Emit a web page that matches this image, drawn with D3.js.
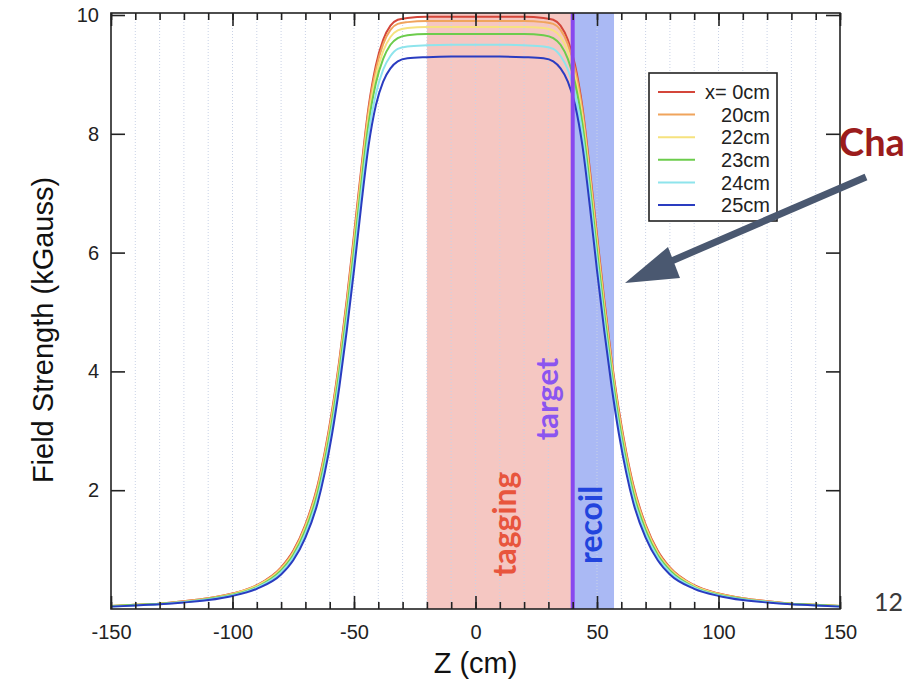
<!DOCTYPE html>
<html><head><meta charset="utf-8">
<script src="https://cdn.jsdelivr.net/npm/d3@7"></script>
<style>
html,body{margin:0;padding:0;background:#fff;}
svg{display:block;}
</style></head>
<body>
<svg id="chart" width="911" height="685"></svg>
<script>
// ---------- data ----------
const zPositions = [-150,-140,-130,-120,-110,-100,-90,-80,-75,-70,-65,-62,-59,-56,-53,-50,-47,-44,-41,-38,-35,-32,-28,-20,-10,0,10,20,28,32,35,38,41,44,47,50,53,56,59,62,65,70,75,80,90,100,110,120,130,140,150];
const field0cm  = [0.05,0.07,0.09,0.13,0.18,0.26,0.40,0.70,0.98,1.42,2.08,2.65,3.35,4.20,5.20,6.30,7.42,8.45,9.15,9.58,9.82,9.92,9.95,9.97,9.97,9.97,9.97,9.97,9.95,9.92,9.82,9.58,9.15,8.45,7.42,6.30,5.20,4.20,3.35,2.65,2.08,1.42,0.98,0.70,0.40,0.26,0.18,0.13,0.09,0.07,0.05];
const field20cm = [0.05,0.07,0.09,0.13,0.18,0.26,0.39,0.69,0.96,1.40,2.05,2.62,3.31,4.16,5.15,6.24,7.36,8.39,9.08,9.51,9.75,9.85,9.88,9.90,9.90,9.90,9.90,9.90,9.88,9.85,9.75,9.51,9.08,8.39,7.36,6.24,5.15,4.16,3.31,2.62,2.05,1.40,0.96,0.69,0.39,0.26,0.18,0.13,0.09,0.07,0.05];
const field22cm = [0.05,0.07,0.09,0.12,0.17,0.25,0.39,0.67,0.94,1.37,2.00,2.56,3.25,4.09,5.07,6.15,7.27,8.29,8.97,9.39,9.63,9.74,9.78,9.80,9.80,9.80,9.80,9.80,9.78,9.74,9.63,9.39,8.97,8.29,7.27,6.15,5.07,4.09,3.25,2.56,2.00,1.37,0.94,0.67,0.39,0.25,0.17,0.12,0.09,0.07,0.05];
const field23cm = [0.05,0.07,0.09,0.12,0.17,0.24,0.37,0.65,0.91,1.33,1.95,2.50,3.18,4.01,4.98,6.04,7.16,8.17,8.85,9.26,9.50,9.61,9.66,9.68,9.68,9.68,9.68,9.68,9.66,9.61,9.50,9.26,8.85,8.17,7.16,6.04,4.98,4.01,3.18,2.50,1.95,1.33,0.91,0.65,0.37,0.24,0.17,0.12,0.09,0.07,0.05];
const field24cm = [0.04,0.06,0.08,0.12,0.16,0.23,0.36,0.62,0.87,1.27,1.87,2.41,3.07,3.89,4.84,5.88,7.00,8.00,8.67,9.08,9.31,9.43,9.47,9.49,9.50,9.50,9.50,9.49,9.47,9.43,9.31,9.08,8.67,8.00,7.00,5.88,4.84,3.89,3.07,2.41,1.87,1.27,0.87,0.62,0.36,0.23,0.16,0.12,0.08,0.06,0.04];
const field25cm = [0.04,0.06,0.08,0.11,0.15,0.22,0.34,0.58,0.82,1.20,1.78,2.30,2.95,3.75,4.68,5.70,6.80,7.80,8.48,8.88,9.10,9.22,9.27,9.29,9.30,9.30,9.30,9.29,9.27,9.22,9.10,8.88,8.48,7.80,6.80,5.70,4.68,3.75,2.95,2.30,1.78,1.20,0.82,0.58,0.34,0.22,0.15,0.11,0.08,0.06,0.04];
const seriesLabels = ["x= 0cm","20cm","22cm","23cm","24cm","25cm"];
const seriesColors = ["#d4463a","#f0a45c","#f6e27e","#6ccc4c","#8ee4ec","#2a3cc0"];
const xTickLabels = [-150,-100,-50,0,50,100,150];
const xMinorTicks = [-150,-140,-130,-120,-110,-100,-90,-80,-70,-60,-50,-40,-30,-20,-10,0,10,20,30,40,50,60,70,80,90,100,110,120,130,140,150];
const yTickLabels = [2,4,6,8,10];
const taggingRange = [-20, 40];
const targetZ = 40;
const recoilRange = [40, 57];

// ---------- layout ----------
const svg = d3.select("#chart");
const L = 111, R = 840, T = 13, B = 609;
const x = d3.scaleLinear().domain([-150,150]).range([L,R]);
const y = d3.scaleLinear().domain([0,10]).range([B,15]);
const FONT = "'Liberation Sans', Arial, Helvetica, sans-serif";

// shaded regions
svg.append("rect").attr("x", x(taggingRange[0])).attr("y", T)
  .attr("width", x(taggingRange[1]) - x(taggingRange[0])).attr("height", B - T)
  .attr("fill", "#f5c7c2");
svg.append("rect").attr("x", x(recoilRange[0])).attr("y", T)
  .attr("width", x(recoilRange[1]) - x(recoilRange[0])).attr("height", B - T)
  .attr("fill", "#aab9f4");

// grid
svg.append("g").selectAll("line").data(xMinorTicks.filter(d => d > -150 && d < 150)).join("line")
  .attr("x1", d => x(d)).attr("x2", d => x(d)).attr("y1", T).attr("y2", B)
  .attr("stroke", "#c9d2e6").attr("stroke-width", 1).attr("stroke-dasharray", "1,2");

// curves
const series = [field0cm, field20cm, field22cm, field23cm, field24cm, field25cm];
const line = d3.line().x((d,i) => x(zPositions[i])).y(d => y(d)).curve(d3.curveMonotoneX);
series.forEach((s, k) => {
  svg.append("path").datum(s).attr("d", line).attr("fill", "none")
    .attr("stroke", seriesColors[k]).attr("stroke-width", 2);
});

// target line
svg.append("line").attr("x1", x(targetZ)).attr("x2", x(targetZ)).attr("y1", T).attr("y2", B)
  .attr("stroke", "#8848ee").attr("stroke-width", 4);

// frame
svg.append("rect").attr("x", L).attr("y", T).attr("width", R - L).attr("height", B - T)
  .attr("fill", "none").attr("stroke", "#222").attr("stroke-width", 1.6);

// axes (ticks inward)
function styleAxis(g) {
  g.select(".domain").remove();
  g.selectAll(".tick line").attr("stroke", "#222").attr("stroke-width", 1.6);
  g.selectAll("text").attr("font-family", FONT).attr("font-size", 20).attr("fill", "#222");
}
const xMajor = d3.axisBottom(x).tickValues(xTickLabels).tickSize(-13).tickPadding(16).tickFormat(d => String(d));
const xMinor = d3.axisBottom(x).tickValues(xMinorTicks).tickSize(-7).tickFormat("");
svg.append("g").attr("transform", `translate(0,${B})`).call(xMinor).call(styleAxis);
svg.append("g").attr("transform", `translate(0,${B})`).call(xMajor).call(styleAxis);
svg.append("g").attr("transform", `translate(0,${T})`).call(d3.axisTop(x).tickValues(xMinorTicks).tickSize(-7).tickFormat("")).call(styleAxis);
svg.append("g").attr("transform", `translate(0,${T})`).call(d3.axisTop(x).tickValues(xTickLabels).tickSize(-13).tickFormat("")).call(styleAxis);
svg.append("g").attr("transform", `translate(${L},0)`).call(d3.axisLeft(y).tickValues(yTickLabels).tickSize(-14).tickPadding(12).tickFormat(d => String(d))).call(styleAxis);
svg.append("g").attr("transform", `translate(${R},0)`).call(d3.axisRight(y).tickValues(yTickLabels).tickSize(-14).tickFormat("")).call(styleAxis);

// axis titles
svg.append("text").attr("x", (L + R) / 2).attr("y", 673).attr("text-anchor", "middle")
  .attr("font-family", FONT).attr("font-size", 29).attr("fill", "#111").text("Z (cm)");
svg.append("text").attr("transform", `translate(53,330) rotate(-90)`).attr("text-anchor", "middle")
  .attr("font-family", FONT).attr("font-size", 29).attr("fill", "#111").text("Field Strength (kGauss)");

// region labels
const LATO = "Lato, 'Open Sans', sans-serif";
svg.append("text").attr("transform", `translate(516,${524}) rotate(-90)`).attr("text-anchor", "middle")
  .attr("font-family", LATO).attr("font-weight", "bold").attr("font-size", 32).attr("fill", "#e8553d").text("tagging");
svg.append("text").attr("transform", `translate(558,${399}) rotate(-90)`).attr("text-anchor", "middle")
  .attr("font-family", LATO).attr("font-weight", "bold").attr("font-size", 31).attr("fill", "#8b55f0").text("target");
svg.append("text").attr("transform", `translate(602,${525}) rotate(-90)`).attr("text-anchor", "middle")
  .attr("font-family", LATO).attr("font-weight", "bold").attr("font-size", 32).attr("fill", "#2244dd").text("recoil");

// legend
const lg = svg.append("g");
lg.append("rect").attr("x", 649).attr("y", 73).attr("width", 128).attr("height", 148)
  .attr("fill", "#fff").attr("stroke", "#222").attr("stroke-width", 1.6);
seriesLabels.forEach((lab, i) => {
  const yy = 92 + i * 22.6;
  lg.append("line").attr("x1", 658).attr("x2", 695).attr("y1", yy).attr("y2", yy)
    .attr("stroke", seriesColors[i]).attr("stroke-width", 2);
  lg.append("text").attr("x", 770).attr("y", yy).attr("dy", "0.36em").attr("text-anchor", "end")
    .attr("font-family", FONT).attr("font-size", 20).attr("fill", "#222").text(lab);
});

// annotation arrow
svg.append("line").attr("x1", 866).attr("y1", 177).attr("x2", 660).attr("y2", 266)
  .attr("stroke", "#4a5870").attr("stroke-width", 7);
svg.append("path").attr("d", "M625,283 L668,247 L680,278 Z").attr("fill", "#4a5870");

// cut-off annotation text and page number
svg.append("text").attr("x", 839).attr("y", 156).attr("font-family", LATO).attr("font-weight", "bold")
  .attr("font-size", 38).attr("fill", "#9b1c1c").text("Cha");
svg.append("text").attr("x", 874).attr("y", 611).attr("font-family", LATO)
  .attr("font-size", 25).attr("fill", "#3a3a3a").text("12");
</script>
</body></html>
